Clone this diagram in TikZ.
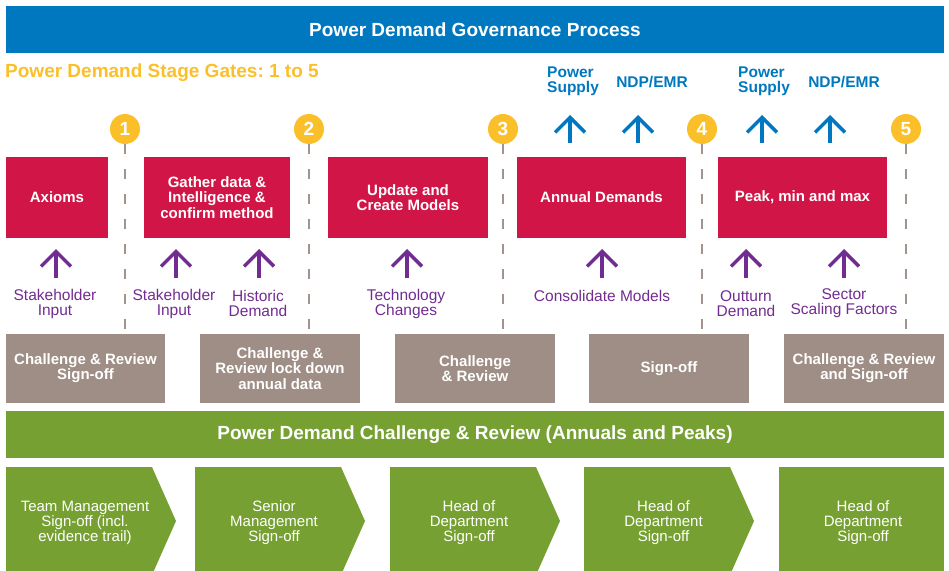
\documentclass[tikz,border=0pt]{standalone}
\usepackage{fontspec}
\setmainfont{Liberation Sans}
\usepackage{tikz}
\usetikzlibrary{arrows.meta,positioning}
\definecolor{govblue}{RGB}{0,120,192}
\definecolor{gatered}{RGB}{209,21,71}
\definecolor{gateyellow}{RGB}{251,191,42}
\definecolor{reviewgrey}{RGB}{158,142,133}
\definecolor{dashgrey}{RGB}{160,148,140}
\definecolor{signgreen}{RGB}{118,161,50}
\definecolor{inputpurple}{RGB}{113,44,145}
\newcommand{\barfont}{\fontsize{19}{19}\selectfont\bfseries}
\newcommand{\boxfont}{\fontsize{15}{15.2}\selectfont\bfseries}
\newcommand{\inputfont}{\fontsize{15.5}{15}\selectfont}
\newcommand{\signfont}{\fontsize{15}{15}\selectfont}
\frenchspacing

\begin{document}
\begin{tikzpicture}[x=1pt,y=-1pt,
    bar/.style={rectangle,inner sep=0pt,minimum width=938pt,minimum height=47pt,text=white,font=\barfont},
    stagebox/.style={rectangle,fill=gatered,inner sep=0pt,minimum height=81pt,text=white,font=\boxfont,align=center},
    reviewbox/.style={rectangle,fill=reviewgrey,inner sep=0pt,minimum width=160pt,minimum height=69pt,text=white,font=\boxfont,align=center},
    gate/.style={circle,fill=gateyellow,inner sep=0pt,minimum size=30pt,text=white,font=\fontsize{19}{19}\selectfont\bfseries},
    gateline/.style={dashgrey,line width=2pt,dash pattern=on 10pt off 15pt},
    outarrow/.style={govblue,line width=3.5pt,-{Straight Barb[length=15pt,width=30pt]}},
    inarrow/.style={inputpurple,line width=3.5pt,-{Straight Barb[length=15pt,width=30pt]}},
    outlabel/.style={text=govblue,font=\inputfont\bfseries,align=left,inner sep=0pt},
    inlabel/.style={text=inputpurple,font=\inputfont,align=center,inner sep=0pt},
    signtext/.style={text=white,font=\signfont,align=center,inner sep=0pt}]
  \useasboundingbox (0,0) rectangle (949,570);
  % headings
  \node[bar,fill=govblue] (process) at (475,29.5) {Power Demand Governance Process};
  \node[anchor=west,inner sep=0pt,text=gateyellow,font=\barfont] (gates) at (5,73) {Power Demand Stage Gates: 1 to 5};
  % stage gates
  \node[gate] (g1) at (125,129) {1};
  \node[gate] (g2) at (309,129) {2};
  \node[gate] (g3) at (503,129) {3};
  \node[gate] (g4) at (702,129) {4};
  \node[gate] (g5) at (906,129) {5};
  \coordinate (e1) at (125,330);
  \coordinate (e2) at (309,330);
  \coordinate (e3) at (503,330);
  \coordinate (e4) at (702,330);
  \coordinate (e5) at (906,330);
  \draw[gateline] (g1.south) -- (e1);
  \draw[gateline] (g2.south) -- (e2);
  \draw[gateline] (g3.south) -- (e3);
  \draw[gateline] (g4.south) -- (e4);
  \draw[gateline] (g5.south) -- (e5);
  % stages
  \node[stagebox,minimum width=102pt] (axioms) at (57,197.5) {Axioms};
  \node[stagebox,minimum width=146pt] (gather) at (217,197.5) {Gather data \&\\Intelligence \&\\confirm method};
  \node[stagebox,minimum width=160pt] (models) at (408,197.5) {Update and\\Create Models};
  \node[stagebox,minimum width=169pt] (annual) at (601.5,197.5) {Annual Demands};
  \node[stagebox,minimum width=169pt] (peak) at (802.5,197.5) {Peak, min and max};
  % outputs
  \node[outlabel,anchor=west] (supplyA) at (547,81) {Power\\Supply};
  \node[outlabel] (emrA) at (652,82) {NDP/EMR};
  \node[outlabel,anchor=west] (supplyB) at (738,81) {Power\\Supply};
  \node[outlabel] (emrB) at (844,82) {NDP/EMR};
  \coordinate (supplyAb) at (570,143); \coordinate (supplyAt) at (570,115);
  \coordinate (emrAb) at (638,143); \coordinate (emrAt) at (638,115);
  \coordinate (supplyBb) at (762,143); \coordinate (supplyBt) at (762,115);
  \coordinate (emrBb) at (830,143); \coordinate (emrBt) at (830,115);
  \draw[outarrow] (supplyAb) -- (supplyAt);
  \draw[outarrow] (emrAb) -- (emrAt);
  \draw[outarrow] (supplyBb) -- (supplyBt);
  \draw[outarrow] (emrBb) -- (emrBt);
  % inputs
  \node[inlabel] (stakeA) at (55,303.5) {Stakeholder\\Input};
  \node[inlabel] (stakeB) at (174,303.5) {Stakeholder\\Input};
  \node[inlabel] (historic) at (258,303.5) {Historic\\Demand};
  \node[inlabel] (tech) at (406,303.5) {Technology\\Changes};
  \node[inlabel] (consolidate) at (602,296) {Consolidate Models};
  \node[inlabel] (outturn) at (746,303.5) {Outturn\\Demand};
  \node[inlabel] (sector) at (844,303.5) {Sector\\Scaling Factors};
  \draw[inarrow] (56,278) coordinate (stakeAb) -- (56,249) coordinate (stakeAt);
  \draw[inarrow] (176,278) coordinate (stakeBb) -- (176,249) coordinate (stakeBt);
  \draw[inarrow] (259,278) coordinate (historicb) -- (259,249) coordinate (historict);
  \draw[inarrow] (407,278) coordinate (techb) -- (407,249) coordinate (techt);
  \draw[inarrow] (602,278) coordinate (consolidateb) -- (602,249) coordinate (consolidatet);
  \draw[inarrow] (746,278) coordinate (outturnb) -- (746,249) coordinate (outturnt);
  \draw[inarrow] (844,278) coordinate (sectorb) -- (844,249) coordinate (sectort);
  % challenge and review
  \node[reviewbox,minimum width=159pt] (reviewA) at (85.5,368.5) {Challenge \& Review\\Sign-off};
  \node[reviewbox] (reviewB) at (280,368.5) {Challenge \&\\Review lock down\\annual data};
  \node[reviewbox] (reviewC) at (475,368.5) {Challenge\\\& Review};
  \node[reviewbox] (reviewD) at (669,368.5) {Sign-off};
  \node[reviewbox] (reviewE) at (864,368.5) {Challenge \& Review\\and Sign-off};
  \node[bar,fill=signgreen] (challenge) at (475,434.5) {Power Demand Challenge \& Review (Annuals and Peaks)};
  % sign-off chevrons
  \fill[signgreen] (6,467) -- (152,467) -- (176,521) -- (152,575) -- (6,575) -- cycle;
  \fill[signgreen] (195,467) -- (341,467) -- (365,521) -- (341,575) -- (195,575) -- cycle;
  \fill[signgreen] (390,467) -- (536,467) -- (560,521) -- (536,575) -- (390,575) -- cycle;
  \fill[signgreen] (584,467) -- (730,467) -- (754,521) -- (730,575) -- (584,575) -- cycle;
  \fill[signgreen] (779,467) rectangle (944,575);
  \node[signtext] (team) at (85,523) {Team Management\\Sign-off (incl.\\evidence trail)};
  \node[signtext] (senior) at (274,523) {Senior\\Management\\Sign-off};
  \node[signtext] (headA) at (469,523) {Head of\\Department\\Sign-off};
  \node[signtext] (headB) at (663.5,523) {Head of\\Department\\Sign-off};
  \node[signtext] (headC) at (863,523) {Head of\\Department\\Sign-off};
\end{tikzpicture}
\end{document}
